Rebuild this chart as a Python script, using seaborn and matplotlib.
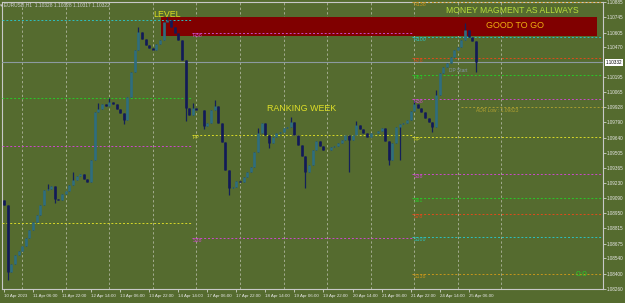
import numpy as np
import pandas as pd
import matplotlib
matplotlib.use("Agg")
import matplotlib.pyplot as plt
import seaborn as sns

# EURUSD H1 chart, traced as 2-hour bars (x = trading hours since 10 Apr 14:00)
first_open = 1.09073
closes = [
    1.09027, 1.08414, 1.08487, 1.08570, 1.08606, 1.08652, 1.08725, 1.08799, 1.08872, 1.08936,
    1.09027, 1.09164, 1.09174, 1.09201, 1.09082, 1.09073, 1.09128, 1.09155, 1.09210, 1.09256,
    1.09293, 1.09311, 1.09265, 1.09238, 1.09439, 1.09878, 1.09906, 1.09951, 1.09933, 1.09970,
    1.09951, 1.09906, 1.09869, 1.09805, 1.10015, 1.10244, 1.10446, 1.10610, 1.10546, 1.10491,
    1.10464, 1.10446, 1.10500, 1.10537, 1.10702, 1.10720, 1.10656, 1.10601, 1.10537, 1.10354,
    1.09915, 1.09851, 1.09915, 1.09897, 1.09897, 1.09750, 1.09778, 1.09897, 1.09933, 1.09778,
    1.09604, 1.09348, 1.09183, 1.09192, 1.09247, 1.09238, 1.09283, 1.09329, 1.09375, 1.09512,
    1.09686, 1.09778, 1.09668, 1.09595, 1.09649, 1.09686, 1.09695, 1.09732, 1.09741, 1.09787,
    1.09668, 1.09576, 1.09476, 1.09329, 1.09393, 1.09531, 1.09613, 1.09567, 1.09531, 1.09531,
    1.09558, 1.09567, 1.09595, 1.09622, 1.09668, 1.09622, 1.09668, 1.09759, 1.09723, 1.09686,
    1.09649, 1.09686, 1.09686, 1.09704, 1.09732, 1.09613, 1.09439, 1.09595, 1.09741, 1.09768,
    1.09778, 1.09805, 1.09887, 1.09951, 1.09915, 1.09878, 1.09823, 1.09787, 1.09741, 1.10034,
    1.10235, 1.10290, 1.10327, 1.10381, 1.10446, 1.10473, 1.10537, 1.10629, 1.10564, 1.10528,
    1.10332,
]
# long wicks that stick out of the bodies (bar number -> price)
wick_highs = {12: 1.09220, 19: 1.09330, 26: 1.09960, 29: 1.10010, 37: 1.10656, 45: 1.10748,
              52: 1.09960, 58: 1.09988, 70: 1.09730, 79: 1.09830, 97: 1.09800, 113: 1.09990,
              119: 1.10080, 127: 1.10693}
wick_lows = {1: 1.08341, 14: 1.09050, 33: 1.09770, 50: 1.09800, 55: 1.09720, 62: 1.09119,
             73: 1.09550, 83: 1.09183, 95: 1.09329, 106: 1.09393, 109: 1.09439, 118: 1.09700,
             130: 1.10244}

bid = 1.10332

# pivot levels: (name, price, color key) for each period
left_levels = [("", 1.10720, "cyan"), ("", 1.10006, "green"), ("", 1.09567, "magenta"), ("", 1.08863, "yellow")]
mid_levels = [("R38", 1.10601, "magenta"), ("PP", 1.09668, "yellow"), ("S38", 1.08725, "magenta")]
right_levels = [
    ("R138", 1.10885, "gold"), ("R100", 1.10564, "cyan"), ("R78", 1.10372, "red"),
    ("R61", 1.10217, "green"), ("R38", 1.09997, "magenta"), ("PP", 1.09649, "yellow"),
    ("S38", 1.09311, "magenta"), ("S61", 1.09091, "green"), ("S78", 1.08945, "red"),
    ("S100", 1.08735, "cyan"), ("S138", 1.08396, "gold"),
]
adr_low = 1.09924

price_ticks = [1.08260, 1.08400, 1.08540, 1.08675, 1.08815, 1.08950, 1.09090, 1.09230, 1.09365,
               1.09505, 1.09640, 1.09790, 1.09928, 1.10065, 1.10195, 1.10470, 1.10605, 1.10745, 1.10885]
date_labels = ["10 Apr 2023", "11 Apr 06:00", "11 Apr 22:00", "12 Apr 14:00", "13 Apr 06:00",
               "13 Apr 22:00", "14 Apr 14:00", "17 Apr 06:00", "17 Apr 22:00", "18 Apr 14:00",
               "19 Apr 06:00", "19 Apr 22:00", "20 Apr 14:00", "21 Apr 06:00", "21 Apr 22:00",
               "24 Apr 14:00", "25 Apr 06:00"]
midnights = [10, 34, 58, 82, 106, 130, 154, 178, 202, 226, 250, 274]

bg = "#556b2f"
colors = {"cyan": "#2cc0c0", "green": "#28c828", "magenta": "#cc48cc", "yellow": "#d8d828",
          "red": "#e04a1c", "gold": "#c8961c"}

sns.set_theme(style="dark", rc={"axes.facecolor": bg, "figure.facecolor": bg})
plt.rcParams["font.family"] = ["Liberation Sans", "DejaVu Sans"]

df = pd.DataFrame({"close": closes})
df["x"] = np.arange(len(df)) * 2
df["open"] = [first_open] + closes[:-1]
df["high"] = df[["open", "close"]].max(axis=1)
df["low"] = df[["open", "close"]].min(axis=1)
for i, v in wick_highs.items():
    df.loc[i, "high"] = v
for i, v in wick_lows.items():
    df.loc[i, "low"] = v
up = df["close"] >= df["open"]

W, H = 625, 303
fig = plt.figure(figsize=(W / 100, H / 100), dpi=100)
ax = fig.add_axes([2 / W, 14 / H, 601 / W, 287 / H])
ax.set_xlim(-1.1, 330)
ax.set_ylim(1.08259, 1.10885)

# grid (day separators)
for m in midnights:
    ax.axvline(m, color="#b8bca8", lw=0.55, ls=(0, (3, 3)), zorder=1)

# red zone
ax.add_patch(plt.Rectangle((86.5, 1.10574), 240.2, 0.00173, color="#800000", lw=0, zorder=2))

# levels
def draw_levels(levels, x0, x1, label_x):
    for name, p, c in levels:
        ax.hlines(p, x0, x1, color=colors[c], lw=0.7, ls=(0, (2, 2)), zorder=3)
        if name:
            ax.text(label_x, p, name, color=colors[c], fontsize=3.8, ha="left", va="top", zorder=6)

draw_levels(left_levels, -1.1, 103.5, None)
draw_levels(mid_levels, 103.5, 225, 104)
draw_levels(right_levels, 225, 330, 225.5)
ax.hlines(adr_low, 252, 330, color="#a89c30", lw=0.7, ls=(0, (2, 2)), zorder=3)
ax.text(260, adr_low - 0.0001, "ADR Low : 1.09823", color="#b0a030", fontsize=3.5, ha="left", va="top")
ax.text(245, 1.10262, "DP Start", color="#8494a8", fontsize=3.5, ha="left", va="center")
ax.text(318, 1.08396, "0:0", color="#28c828", fontsize=6, ha="center", va="center")

# bid line
ax.axhline(bid, color="#8c9aa0", lw=0.8, zorder=3)

# candles
ax.vlines(df["x"], df["low"], df["high"], color="#14205a", lw=0.9, zorder=4)
ax.vlines(df["x"][up], df["open"][up], df["close"][up], color="#2f6e7e", lw=1.9, zorder=5)
ax.vlines(df["x"][~up], df["open"][~up], df["close"][~up], color="#121a58", lw=1.9, zorder=5)

# axes styling
for s in ax.spines.values():
    s.set_color("#c8c8c8")
    s.set_linewidth(0.8)
ax.yaxis.tick_right()
ax.set_yticks(price_ticks)
ax.set_yticklabels([f"{v:.5f}" for v in price_ticks])
ax.set_xticks(np.arange(len(date_labels)) * 16)
ax.set_xticklabels(date_labels, ha="left")
ax.tick_params(axis="y", colors="#e8e8e8", labelsize=3.3, length=2, width=0.5, pad=1, right=True)
ax.tick_params(axis="x", colors="#e8e8e8", labelsize=3.2, length=2, width=0.5, pad=1.5, bottom=True)
ax.grid(False)
ax.text(1.004, bid, f"{bid:.5f}", transform=ax.get_yaxis_transform(), fontsize=3.3, color="#000000",
        ha="left", va="center", bbox=dict(facecolor="white", edgecolor="none", pad=0.5), clip_on=False)

def ftext(x, y, s, **kw):
    fig.text(x / W, 1 - y / H, s, ha="center", va="center", **kw)

ftext(55, 5, "\u25be EURUSD,H1  1.10328 1.10328 1.10317 1.10322", color="#d0d0d0", fontsize=3.5)
ftext(167, 14.5, "LEVEL", color="#dcdc20", fontsize=6.4)
ftext(512, 10.5, "MONEY MAGMENT AS ALLWAYS", color="#b8dc3c", fontsize=6.2)
ftext(515, 26, "GOOD TO GO", color="#f0b010", fontsize=6.4)
ftext(302, 108.5, "RANKING WEEK", color="#e0e028", fontsize=6.4)

fig.savefig("out.png", dpi=100, facecolor=bg)
